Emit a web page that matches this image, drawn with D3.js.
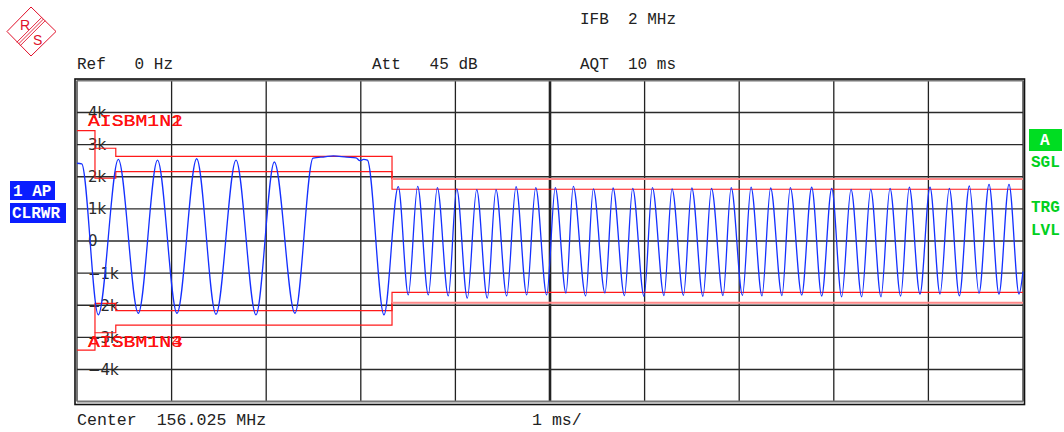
<!DOCTYPE html>
<html><head><meta charset="utf-8">
<script src="https://cdn.jsdelivr.net/npm/d3@7"></script>
<style>body{margin:0;background:#fff;}svg{display:block}</style>
</head><body>
<svg id="c" width="1064" height="432"></svg>
<script>
// ---------- data ----------
const xGrid = [0,1,2,3,4,5,6,7,8,9,10];                 // ms
const yGrid = [-5000,-4000,-3000,-2000,-1000,0,1000,2000,3000,4000,5000]; // Hz
const yTicks = [4000,3000,2000,1000,0,-1000,-2000,-3000,-4000];
const yTickLabels = ["4k","3k","2k","1k","0","\u22121k","\u22122k","\u22123k","\u22124k"];

// limit lines [ms, Hz]
const limitUpperOuter = [[0,3436],[0.19,3436],[0.19,2888],[0.41,2888],[0.41,2632],[3.33,2632],[3.33,1931]];
const limitUpperOuterTail = [[3.33,1931],[10,1931]];
const limitUpperInner = [[0.19,2888],[0.19,1953],[0.41,1953],[0.41,2159],[3.33,2159],[3.33,1611],[10,1611]];
const limitLowerOuter = [[0,-3396],[0.19,-3396],[0.19,-2857],[0.41,-2857],[0.41,-2617],[3.33,-2617],[3.33,-1922]];
const limitLowerOuterTail = [[3.33,-1922],[10,-1922]];
const limitLowerInner = [[0.19,-2857],[0.19,-1941],[0.41,-1941],[0.41,-2165],[3.33,-2165],[3.33,-1598],[10,-1598]];

// trace: slow part (ms, Hz)
const slowT = [0,0.05,0.225,0.437,0.648,0.851,1.057,1.265,1.469,1.681,1.892,2.086,2.304,2.495,2.62,2.71,2.85,2.95,2.99,3.03,3.07,3.245];
const slowV = [2420,2400,-2300,2540,-2250,2520,-2250,2560,-2280,2520,-2300,2460,-2250,2580,2620,2650,2610,2590,2500,2540,2520,-2300];
// fast part peaks / troughs
const peakT = [3.396,3.601,3.809,4.014,4.225,4.429,4.641,4.849,5.056,5.246,5.458,5.666,5.874,6.082,6.290,6.499,6.707,6.915,7.125,7.332,7.540,7.766,7.978,8.182,8.390,8.594,8.798,9.017,9.221,9.433,9.641,9.852];
const peakV = [1690,1700,1660,1620,1600,1600,1690,1660,1660,1700,1620,1650,1640,1660,1620,1650,1640,1660,1680,1650,1660,1673,1641,1610,1610,1641,1673,1673,1641,1713,1766,1766];
const troughT = [3.502,3.714,3.925,4.126,4.337,4.542,4.754,4.965,5.169,5.377,5.581,5.787,5.994,6.205,6.411,6.617,6.829,7.035,7.241,7.452,7.661,7.872,8.083,8.295,8.499,8.707,8.911,9.123,9.327,9.535,9.746,9.958];
const troughV = [-1680,-1680,-1710,-1780,-1780,-1710,-1680,-1680,-1620,-1710,-1620,-1700,-1720,-1700,-1690,-1720,-1700,-1690,-1710,-1700,-1682,-1713,-1735,-1735,-1735,-1713,-1651,-1651,-1704,-1629,-1651,-1651];
const endPoint = [10.0,-950];

// ---------- drawing ----------
const svg = d3.select("#c");
const x = d3.scaleLinear().domain([0,10]).range([77,1023]);
const y = d3.scaleLinear().domain([-5000,5000]).range([401.6,80.4]);
const mono = "'Liberation Mono', 'DejaVu Sans Mono', monospace";

// logo
const logo = svg.append("g");
logo.append("path").attr("d","M31,7 L56,31.5 L31,56 L7,31.5 Z")
  .attr("fill","none").attr("stroke","#e0102a").attr("stroke-width",1);
[-1.7,0,1.7].forEach(o=>{
  logo.append("line").attr("x1",18.5+o).attr("y1",44+o).attr("x2",43.5+o).attr("y2",19+o)
    .attr("stroke","#e0102a").attr("stroke-width",0.9);
});
logo.append("text").attr("x",20).attr("y",29.5).text("R")
  .attr("font-family","'Liberation Sans', Arial, sans-serif").attr("font-size",14).attr("fill","#e0102a");
logo.append("text").attr("x",33).attr("y",45).text("S")
  .attr("font-family","'Liberation Sans', Arial, sans-serif").attr("font-size",14).attr("fill","#e0102a");

// header texts
function mtext(tx,ty,s,opt={}){
  return svg.append("text").attr("x",tx).attr("y",ty).text(s)
    .attr("font-family",mono).attr("font-size",opt.size||16)
    .attr("font-weight",opt.weight||"normal")
    .attr("fill",opt.fill||"#222").style("white-space","pre").attr("xml:space","preserve");
}
mtext(580,24,"IFB  2 MHz");
mtext(77,69,"Ref   0 Hz");
mtext(372,69,"Att   45 dB");
mtext(580,69,"AQT  10 ms");
mtext(77,425,"Center  156.025 MHz",{size:16.6});
mtext(532,425,"1 ms/",{size:16.6});

// grid
const g = svg.append("g");
g.selectAll("line.v").data(xGrid).join("line").attr("class","v")
  .attr("x1",d=>x(d)).attr("x2",d=>x(d)).attr("y1",y(5000)).attr("y2",y(-5000))
  .attr("stroke",d=>(d===0||d===10)?"#777":"#222")
  .attr("stroke-width",d=>d===5?2.6:(d===0||d===10)?2:1.3);
g.selectAll("line.h").data(yGrid).join("line").attr("class","h")
  .attr("x1",x(0)).attr("x2",x(10)).attr("y1",d=>y(d)).attr("y2",d=>y(d))
  .attr("stroke",d=>(Math.abs(d)===5000)?"#777":"#2a2a2a")
  .attr("stroke-width",d=>(Math.abs(d)===5000)?2:1.4);
// frame
svg.append("rect").attr("x",75).attr("y",79).attr("width",949.5).attr("height",325.5)
  .attr("fill","none").attr("stroke","#111").attr("stroke-width",1.6);

// y tick labels
svg.selectAll("text.yt").data(yTicks).join("text").attr("class","yt")
  .attr("x",88).attr("y",d=>y(d)).attr("dy","0.36em")
  .text((d,i)=>yTickLabels[i])
  .attr("font-family","'DejaVu Sans', sans-serif").attr("font-size",15).attr("fill","#2a2a2a");

// limit lines
const line = d3.line().x(d=>x(d[0])).y(d=>y(d[1]));
const lim = svg.append("g").attr("fill","none");
[limitUpperOuter,limitUpperInner,limitLowerOuter,limitLowerInner].forEach(a=>{
  lim.append("path").attr("d",line(a)).attr("stroke","#ff1a1a").attr("stroke-width",1.2);
});
[limitUpperOuterTail,limitLowerOuterTail].forEach(a=>{
  lim.append("path").attr("d",line(a)).attr("stroke","#ff8a8a").attr("stroke-width",2);
});

// trace
const trace = [];
slowT.forEach((t,i)=>trace.push([t,slowV[i]]));
peakT.forEach((t,i)=>{ trace.push([t,peakV[i]]); trace.push([troughT[i],troughV[i]]); });
trace.push(endPoint);
const tline = d3.line().x(d=>x(d[0])).y(d=>y(d[1])).curve(d3.curveMonotoneX);
svg.append("path").attr("d",tline(trace)).attr("fill","none")
  .attr("stroke","#1430ff").attr("stroke-width",1.3);

// limit labels (overlapping pairs, as on the instrument screen)
function redLabel(ty,s){
  svg.append("text").attr("x",88).attr("y",ty).text(s)
    .attr("font-family",mono).attr("font-size",16.5).attr("fill","#ff1010")
    .attr("textLength",95).attr("lengthAdjust","spacingAndGlyphs");
}
redLabel(126,"AISBM1N1"); redLabel(126,"AISBM1N2");
redLabel(346.5,"AISBM1N3"); redLabel(346.5,"AISBM1N4");

// left boxes
svg.append("rect").attr("x",10).attr("y",181).attr("width",45).attr("height",19).attr("fill","#0a1eff");
mtext(13,196,"1 AP",{fill:"#fff",weight:"bold"});
svg.append("rect").attr("x",10).attr("y",203).attr("width",56).attr("height",20).attr("fill","#0a1eff");
mtext(12,218,"CLRWR",{fill:"#fff",weight:"bold"});

// right annotations
svg.append("rect").attr("x",1029).attr("y",129).attr("width",33).attr("height",22).attr("fill","#00dd22");
mtext(1040,145,"A",{fill:"#fff",weight:"bold"});
mtext(1031,167,"SGL",{fill:"#00d020",weight:"bold"});
mtext(1031,212,"TRG",{fill:"#00d020",weight:"bold"});
mtext(1031,235,"LVL",{fill:"#00d020",weight:"bold"});
</script>
</body></html>
